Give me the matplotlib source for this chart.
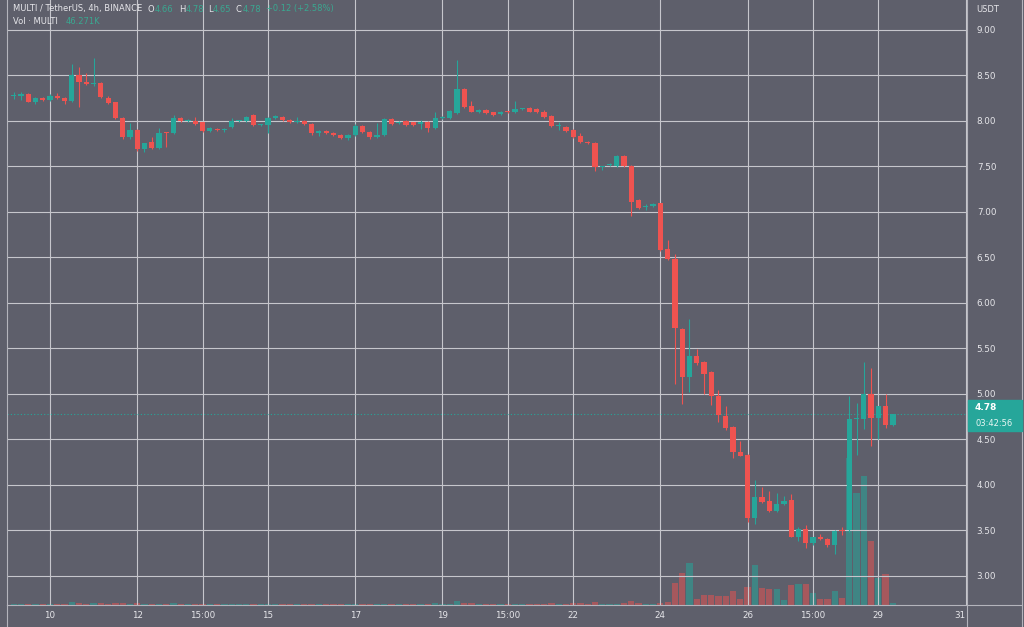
import matplotlib
matplotlib.use("Agg")
import matplotlib.pyplot as plt
from matplotlib.patches import Rectangle
from matplotlib.lines import Line2D
import numpy as np

# ---------------- data (4h candles, index 0 = day "10") ----------------
candle_index = list(range(-5, 117))

opens = [8.27, 8.27, 8.29, 8.21, 8.25, 8.23, 8.27, 8.25, 8.22, 8.50,
         8.43, 8.40, 8.41, 8.25, 8.20, 8.03, 7.82, 7.90, 7.69, 7.77,
         7.70, 7.87, 7.86, 8.03, 8.00, 8.00, 7.98, 7.89, 7.91, 7.90,
         7.93, 8.00, 8.00, 8.06, 7.95, 7.95, 8.03, 8.04, 8.01, 7.98,
         8.00, 7.96, 7.86, 7.89, 7.87, 7.84, 7.81, 7.84, 7.94, 7.88,
         7.82, 7.84, 8.02, 7.97, 8.00, 7.98, 7.96, 7.99, 7.92, 8.03,
         8.03, 8.08, 8.35, 8.16, 8.09, 8.12, 8.09, 8.07, 8.10, 8.09,
         8.13, 8.14, 8.13, 8.10, 8.05, 7.94, 7.93, 7.90, 7.83, 7.77,
         7.76, 7.49, 7.51, 7.50, 7.61, 7.50, 7.13, 7.05, 7.06, 7.09,
         6.59, 6.48, 5.71, 5.18, 5.41, 5.35, 5.24, 4.98, 4.76, 4.63,
         4.36, 4.33, 3.63, 3.86, 3.82, 3.71, 3.79, 3.83, 3.43, 3.51,
         3.36, 3.43, 3.40, 3.34, 3.50, 3.50, 4.72, 4.72, 5.00, 4.73,
         4.86, 4.66]
highs = [8.31, 8.32, 8.30, 8.26, 8.26, 8.29, 8.30, 8.26, 8.62, 8.59,
         8.52, 8.69, 8.42, 8.27, 8.21, 8.04, 7.97, 7.91, 7.76, 7.82,
         7.92, 7.88, 8.06, 8.04, 8.02, 8.04, 7.99, 7.93, 7.92, 7.92,
         8.03, 8.01, 8.05, 8.07, 7.96, 8.04, 8.06, 8.05, 8.02, 8.04,
         8.01, 7.97, 7.90, 7.90, 7.88, 7.85, 7.85, 7.96, 7.95, 7.89,
         7.97, 8.03, 8.03, 8.00, 8.01, 7.99, 8.01, 8.00, 8.09, 8.05,
         8.12, 8.67, 8.36, 8.22, 8.13, 8.13, 8.10, 8.11, 8.11, 8.22,
         8.14, 8.15, 8.14, 8.12, 8.06, 7.98, 7.94, 7.91, 7.86, 7.78,
         7.77, 7.50, 7.53, 7.62, 7.62, 7.51, 7.14, 7.08, 7.09, 7.10,
         6.69, 6.54, 5.72, 5.82, 5.49, 5.36, 5.25, 5.04, 4.86, 4.64,
         4.48, 4.34, 4.05, 3.98, 3.93, 3.91, 3.88, 3.90, 3.54, 3.56,
         3.43, 3.46, 3.41, 3.50, 3.54, 4.97, 4.90, 5.35, 5.28, 4.86,
         5.00, 4.78]
lows = [8.24, 8.23, 8.20, 8.18, 8.22, 8.22, 8.24, 8.18, 8.21, 8.15,
        8.39, 8.38, 8.25, 8.18, 8.02, 7.80, 7.80, 7.67, 7.66, 7.69,
        7.69, 7.71, 7.85, 7.99, 7.98, 7.95, 7.88, 7.88, 7.89, 7.88,
        7.92, 7.99, 7.99, 7.94, 7.94, 7.86, 8.02, 8.00, 7.97, 7.97,
        7.95, 7.84, 7.83, 7.85, 7.83, 7.80, 7.79, 7.83, 7.87, 7.80,
        7.81, 7.83, 7.95, 7.96, 7.94, 7.94, 7.91, 7.88, 7.91, 8.02,
        8.02, 8.07, 8.14, 8.09, 8.08, 8.07, 8.05, 8.06, 8.08, 8.08,
        8.12, 8.09, 8.08, 8.03, 7.93, 7.90, 7.88, 7.81, 7.76, 7.74,
        7.45, 7.46, 7.50, 7.49, 7.49, 6.95, 7.03, 7.02, 7.05, 6.57,
        6.47, 5.11, 4.89, 5.02, 5.32, 5.00, 4.88, 4.69, 4.60, 4.29,
        4.31, 3.59, 3.57, 3.80, 3.70, 3.70, 3.78, 3.42, 3.38, 3.30,
        3.34, 3.39, 3.32, 3.24, 3.45, 3.48, 4.33, 4.61, 4.42, 4.50,
        4.62, 4.65]
closes = [8.28, 8.29, 8.21, 8.25, 8.23, 8.27, 8.25, 8.22, 8.50, 8.43,
          8.40, 8.41, 8.26, 8.19, 8.03, 7.82, 7.90, 7.69, 7.75, 7.70,
          7.86, 7.86, 8.03, 8.00, 8.01, 7.96, 7.89, 7.92, 7.90, 7.91,
          8.00, 8.005, 8.04, 7.95, 7.955, 8.03, 8.05, 8.01, 7.98, 7.99,
          7.96, 7.86, 7.89, 7.86, 7.84, 7.81, 7.84, 7.94, 7.88, 7.82,
          7.84, 8.02, 7.96, 7.99, 7.95, 7.95, 7.99, 7.92, 8.03, 8.04,
          8.11, 8.35, 8.15, 8.10, 8.12, 8.08, 8.06, 8.10, 8.09, 8.13,
          8.135, 8.10, 8.09, 8.04, 7.94, 7.955, 7.89, 7.82, 7.77, 7.75,
          7.49, 7.50, 7.52, 7.61, 7.50, 7.11, 7.04, 7.06, 7.08, 6.58,
          6.48, 5.72, 5.18, 5.41, 5.34, 5.22, 4.98, 4.77, 4.62, 4.36,
          4.32, 3.63, 3.87, 3.81, 3.71, 3.79, 3.82, 3.43, 3.51, 3.36,
          3.42, 3.40, 3.34, 3.49, 3.49, 4.72, 4.73, 5.00, 4.73, 4.86,
          4.66, 4.78]
volumes_k = [20, 25, 30, 20, 25, 30, 25, 35, 70, 55,
             35, 45, 40, 30, 45, 50, 30, 45, 25, 20,
             35, 25, 40, 20, 15, 20, 25, 15, 15, 15,
             25, 15, 20, 25, 15, 25, 20, 15, 15, 15,
             15, 25, 15, 15, 15, 20, 15, 25, 20, 20,
             20, 35, 25, 15, 20, 15, 20, 25, 40, 20,
             35, 110, 60, 40, 25, 25, 20, 20, 20, 30,
             15, 20, 20, 30, 45, 20, 25, 40, 45, 35,
             70, 35, 25, 35, 55, 105, 40, 20, 20, 55,
             80, 560, 790, 1040, 140, 250, 250, 225, 225, 350,
             140, 450, 1000, 430, 410, 390, 120, 500, 530, 530,
             310, 150, 150, 350, 180, 3680, 2800, 3230, 1600, 680,
             780, 46.271]

x_tick_pos = [0, 12, 21, 30, 42, 54, 63, 72, 84, 96, 105, 114, 126]
x_tick_labels = ["10", "12", "15:00", "15", "17", "19", "15:00", "22",
                 "24", "26", "15:00", "29", "31"]
price_ticks = [3.0, 3.5, 4.0, 4.5, 5.0, 5.5, 6.0, 6.5, 7.0, 7.5, 8.0, 8.5, 9.0]
last_price = 4.78

# ---------------- style ----------------
BG = "#5e5f6b"
GRID = "#c6c6cc"
BORDER = "#b4b4bc"
UP = "#26a69a"
DOWN = "#ef5350"
TXT = "#e6e6ea"
W, H = 1024, 627

fig = plt.figure(figsize=(W / 100, H / 100), dpi=100, facecolor=BG)
ax = fig.add_axes([7 / W, (H - 605) / H, (967 - 7) / W, 605 / H])
ax2 = ax.twinx()
ax.set_zorder(2)
ax2.set_zorder(1)
ax.patch.set_visible(False)
ax2.patch.set_facecolor(BG)

x = np.array(candle_index)
o = np.array(opens); h = np.array(highs); l = np.array(lows); c = np.array(closes)
up = c >= o
colors = np.where(up, UP, DOWN)

# volumes
vol_colors = [(0.149, 0.651, 0.604, 0.55) if u else (0.937, 0.325, 0.314, 0.5) for u in up]
ax2.bar(x, volumes_k, width=0.86, color=vol_colors, linewidth=0)
ax2.set_ylim(0, 15125)
ax2.set_yticks([])
for s in ax2.spines.values():
    s.set_visible(False)

# candles
ax.vlines(x, l, h, colors=colors, linewidth=0.8, zorder=3)
body_h = np.maximum(np.abs(c - o), 0.012)
ax.bar(x, body_h, bottom=np.minimum(o, c), width=0.72, color=colors,
       linewidth=0, zorder=4)

ax.axhline(last_price, color=UP, linestyle=(0, (1, 2)), linewidth=0.8, zorder=2)

ax.set_xlim(-5.92, 126.2)
ax.set_ylim(2.678, 9.326)
ax.set_xticks(x_tick_pos)
ax.set_xticklabels(x_tick_labels)
ax.set_yticks(price_ticks)
ax.set_yticklabels([f"{p:.2f}" for p in price_ticks])
ax.yaxis.tick_right()
ax.tick_params(axis="both", length=0, colors=TXT, labelsize=6.3)
ax.tick_params(axis="y", pad=7)
ax.tick_params(axis="x", pad=4.5)
ax.get_xticklabels()[-1].set_ha("right")
ax.grid(True, color=GRID, linewidth=0.8)
ax.set_axisbelow(True)
for side, s in ax.spines.items():
    if side == "top":
        s.set_visible(False)
    else:
        s.set_color(BORDER)
        s.set_linewidth(0.8)

# frame lines of the price-scale panel and bottom area
def pline(x0, y0, x1, y1):
    fig.add_artist(Line2D([x0 / W, x1 / W], [1 - y0 / H, 1 - y1 / H],
                          color=BORDER, linewidth=0.8))

pline(967, 605, 967, 627)
pline(7, 605, 7, 627)
pline(967, 605, 1022, 605)
pline(1022, 0, 1022, 627)

# price label box
fig.add_artist(Rectangle((968 / W, 1 - 431 / H), 54 / W, 31 / H,
                         transform=fig.transFigure, color=UP, zorder=5))
fig.text(975 / W, 1 - 408 / H, "4.78", color="white", fontsize=6.5,
         fontweight="bold", va="center", ha="left", zorder=6)
fig.text(975 / W, 1 - 423 / H, "03:42:56", color="#e8f6f3", fontsize=6,
         va="center", ha="left", zorder=6)
fig.text(976 / W, 1 - 10 / H, "USDT", color=TXT, fontsize=6, va="center", ha="left")

# header legend
HT = "#3aa891"
def htxt(px, py, s, col, weight="normal"):
    fig.text(px / W, 1 - py / H, s, color=col, fontsize=6, va="center",
             ha="left", fontweight=weight)

htxt(13, 9, "MULTI / TetherUS, 4h, BINANCE", TXT)
htxt(148, 9, "O", TXT); htxt(155, 9, "4.66", HT)
htxt(179, 9, "H", TXT); htxt(186, 9, "4.78", HT)
htxt(208, 9, "L", TXT); htxt(213, 9, "4.65", HT)
htxt(236, 9, "C", TXT); htxt(243, 9, "4.78", HT)
htxt(266, 9, "+0.12 (+2.58%)", HT)
htxt(13, 22, "Vol \u00b7 MULTI", TXT)
htxt(66, 22, "46.271K", HT)

fig.savefig("out.png", dpi=100, facecolor=BG)
